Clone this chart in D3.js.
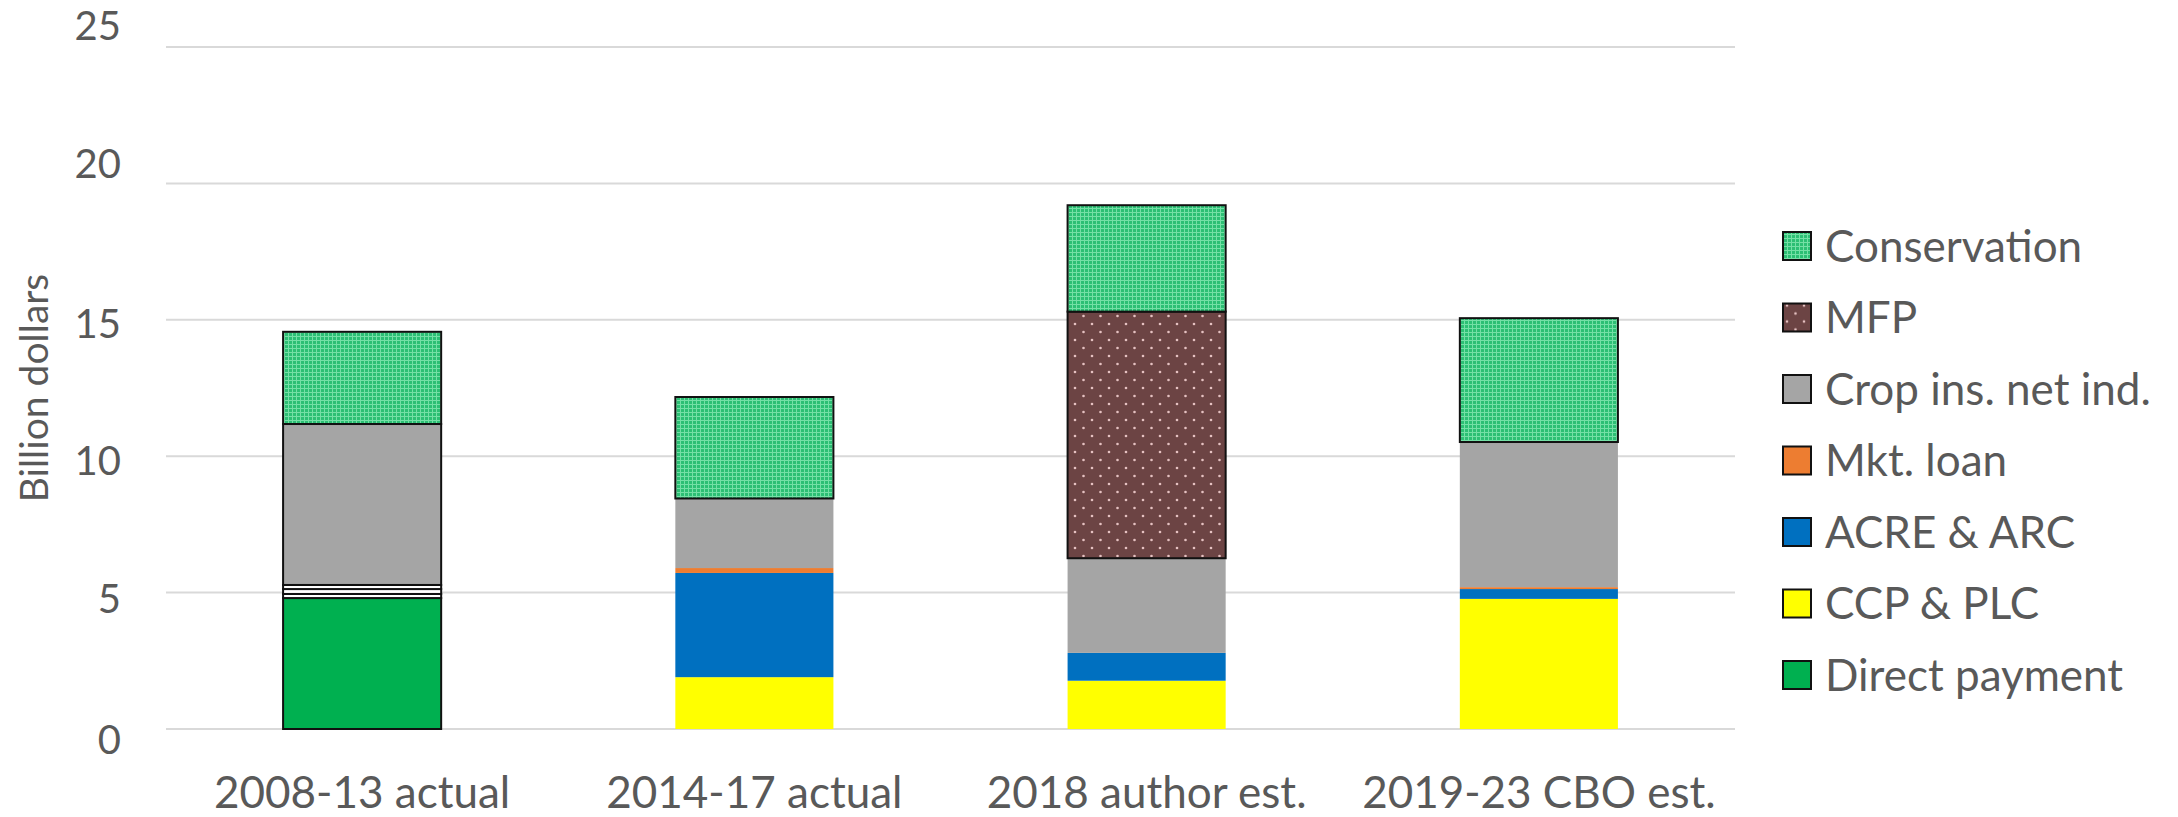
<!DOCTYPE html>
<html>
<head>
<meta charset="utf-8">
<script src="https://cdn.jsdelivr.net/npm/d3@7"></script>
<style>
  html, body { margin: 0; padding: 0; background: #fff; }
  svg { display: block; font-family: Lato, "Open Sans", sans-serif; }
</style>
</head>
<body>
<div id="chart"></div>
<script>
const categories = ["2008-13 actual", "2014-17 actual", "2018 author est.", "2019-23 CBO est."]

// stacked bottom to top
const seriesNames = ["Direct payment", "CCP & PLC", "ACRE & ARC", "Mkt. loan", "Crop ins. net ind.", "MFP", "Conservation"]
const directPayment = [4.8, 0, 0, 0]
const ccpPlc        = [0.15, 1.9, 1.77, 4.77]
const acreArc       = [0.18, 3.82, 1.02, 0.36]
const mktLoan       = [0.15, 0.18, 0, 0.07]
const cropIns       = [5.9, 2.55, 3.47, 5.32]
const mfp           = [0, 0, 9.04, 0]
const conservation  = [3.38, 3.72, 3.9, 4.54]

const yTicks = [0, 5, 10, 15, 20, 25]

const width = 2178, height = 817
const margin = { top: 47, right: 443, bottom: 88, left: 166 }

const rows = categories.map((c, i) => ({
  category: c,
  "Direct payment": directPayment[i],
  "CCP & PLC": ccpPlc[i],
  "ACRE & ARC": acreArc[i],
  "Mkt. loan": mktLoan[i],
  "Crop ins. net ind.": cropIns[i],
  "MFP": mfp[i],
  "Conservation": conservation[i],
}))

const colors = {
  "Direct payment": "#00b050",
  "CCP & PLC": "#ffff00",
  "ACRE & ARC": "#0070c0",
  "Mkt. loan": "#ed7d31",
  "Crop ins. net ind.": "#a5a5a5",
  "MFP": "url(#mfpPattern)",
  "Conservation": "url(#consPattern)",
}
// series drawn with a black outline in every bar; the first bar outlines all
const outlined = ["MFP", "Conservation"]

const svg = d3.select("#chart").append("svg")
  .attr("width", width)
  .attr("height", height)

const defs = svg.append("defs")

const cons = defs.append("pattern")
  .attr("id", "consPattern")
  .attr("patternUnits", "userSpaceOnUse")
  .attr("width", 4).attr("height", 4)
cons.append("rect").attr("width", 4).attr("height", 4).attr("fill", "#2cbf74")
cons.append("rect").attr("x", 0).attr("y", 0).attr("width", 4).attr("height", 1).attr("fill", "#74e0a6")
cons.append("rect").attr("x", 0).attr("y", 0).attr("width", 1).attr("height", 4).attr("fill", "#74e0a6")

const mfpP = defs.append("pattern")
  .attr("id", "mfpPattern")
  .attr("patternUnits", "userSpaceOnUse")
  .attr("width", 17).attr("height", 16)
mfpP.append("rect").attr("width", 17).attr("height", 16).attr("fill", "#6c4444")
mfpP.append("circle").attr("cx", 4).attr("cy", 4).attr("r", 1.3).attr("fill", "#e6c2c2")
mfpP.append("circle").attr("cx", 12.5).attr("cy", 12).attr("r", 1.3).attr("fill", "#e6c2c2")

const x = d3.scaleBand()
  .domain(categories)
  .range([margin.left, width - margin.right])
  .paddingInner(0.597)
  .paddingOuter(0.2985)

const y = d3.scaleLinear()
  .domain([0, 25])
  .range([height - margin.bottom, margin.top])

// gridlines
svg.append("g")
  .selectAll("line")
  .data(yTicks)
  .join("line")
    .attr("x1", margin.left)
    .attr("x2", width - margin.right)
    .attr("y1", d => y(d))
    .attr("y2", d => y(d))
    .attr("stroke", "#d9d9d9")
    .attr("stroke-width", 2)

// tick labels (nudged as in the original picture)
const labelNudge = { 0: 11, 5: 6, 10: 4, 15: 4, 20: -20, 25: -21 }
svg.append("g")
  .selectAll("text")
  .data(yTicks)
  .join("text")
    .attr("x", 121)
    .attr("y", d => y(d) + labelNudge[d])
    .attr("dy", "0.36em")
    .attr("text-anchor", "end")
    .attr("fill", "#595959")
    .style("font-size", "40px")
    .text(d => d)

svg.append("text")
  .attr("transform", "translate(48,388) rotate(-90)")
  .attr("text-anchor", "middle")
  .attr("fill", "#595959")
  .style("font-size", "39px")
  .text("Billion dollars")

const stack = d3.stack().keys(seriesNames)
const stacked = stack(rows)

const barGroups = svg.append("g")
  .selectAll("g")
  .data(stacked)
  .join("g")

barGroups.selectAll("rect")
  .data(d => d.filter(p => p[1] - p[0] > 0).map(p => ({ key: d.key, p })))
  .join("rect")
    .attr("x", d => x(d.p.data.category))
    .attr("width", x.bandwidth())
    .attr("y", d => y(d.p[1]))
    .attr("height", d => y(d.p[0]) - y(d.p[1]))
    .attr("fill", d => {
      // thin first-bar slivers render as outlined white gaps
      if (d.p.data.category === categories[0] && d.p[1] - d.p[0] < 0.3) return "#fff"
      return colors[d.key]
    })
    .attr("stroke", d => (outlined.includes(d.key) || d.p.data.category === categories[0]) ? "#111" : "none")
    .attr("stroke-width", 2)

// category labels
svg.append("g")
  .selectAll("text")
  .data(categories)
  .join("text")
    .attr("x", d => x(d) + x.bandwidth() / 2)
    .attr("y", 808)
    .attr("text-anchor", "middle")
    .attr("fill", "#595959")
    .style("font-size", "44px")
    .text(d => d)

// legend
const legendItems = seriesNames.slice().reverse()
const legend = svg.append("g")
  .selectAll("g")
  .data(legendItems)
  .join("g")
    .attr("transform", (d, i) => "translate(1783," + (246 + i * 71.5) + ")")

legend.append("rect")
  .attr("x", 0)
  .attr("y", -14)
  .attr("width", 28)
  .attr("height", 28)
  .attr("fill", d => colors[d])
  .attr("stroke", "#111")
  .attr("stroke-width", 2)

legend.append("text")
  .attr("x", 42)
  .attr("dy", "0.36em")
  .attr("fill", "#595959")
  .style("font-size", "44px")
  .text(d => d)
</script>
</body>
</html>
